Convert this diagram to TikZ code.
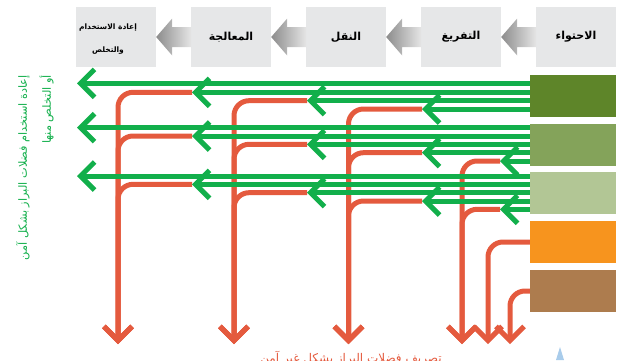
\documentclass[tikz,border=0pt]{standalone}
\usepackage{fontspec}
\newfontfamily\arabicfont[Script=Arabic]{DejaVu Sans}
\TeXXeTstate=1
\usetikzlibrary{arrows.meta}
\definecolor{G}{HTML}{12AF4B}
\definecolor{R}{HTML}{E45A3E}
\definecolor{boxgray}{HTML}{E6E7E8}
\definecolor{s1c}{HTML}{5E8529}
\definecolor{s2c}{HTML}{84A35A}
\definecolor{s3c}{HTML}{B2C695}
\definecolor{s4c}{HTML}{F7941E}
\definecolor{s5c}{HTML}{AD7C4E}
\definecolor{lblue}{HTML}{A9CCEB}
\tikzset{
  topbox/.style={fill=boxgray, minimum width=80pt, minimum height=60pt, inner sep=0pt,
    font=\arabicfont\bfseries\fontsize{11}{13}\selectfont, align=center},
  toplabel/.style={inner sep=0pt, align=center, font=\arabicfont\bfseries\fontsize{7.5}{23}\selectfont},
  srcbox/.style={minimum width=86pt, minimum height=42pt, inner sep=0pt},
  grn/.style={draw=G, line width=5pt, -{Straight Barb[length=14pt,width=28pt]}},
  redl/.style={draw=R, line width=5pt, rounded corners=15pt, -{Straight Barb[length=14pt,width=28pt]}},
  garrow/.style={left color=black!45, right color=black!10},
}
\begin{document}
\begin{tikzpicture}[x=1pt,y=-1pt]
\useasboundingbox (0,0) rectangle (621,360);
\clip (0,0) rectangle (621,360);

% top process boxes
\node[topbox] (b1) at (116,37) {};
\node[toplabel] (b1t) at (108,39) {\beginR إعادة الاستخدام\endR\\\beginR والتخلص\endR};
\node[topbox] (b2) at (231,37) {\beginR المعالجة\endR};
\node[topbox] (b3) at (346,37) {\beginR النقل\endR};
\node[topbox] (b4) at (461,37) {\beginR التفريغ\endR};
\node[topbox] (b5) at (576,37) {\beginR الاحتواء\endR};

\foreach \a/\b in {b1/b2,b2/b3,b3/b4,b4/b5}
  \shade[garrow] (\a.east) -- ++(16,-18.5) -- ++(0,8.5) -- ++(19,0) -- ++(0,20) -- ++(-19,0) -- ++(0,8.5) -- cycle;

% source boxes
\node[srcbox, fill=s1c] (s1) at (573,96) {};
\node[srcbox, fill=s2c] (s2) at (573,145) {};
\node[srcbox, fill=s3c] (s3) at (573,193) {};
\node[srcbox, fill=s4c] (s4) at (573,242) {};
\node[srcbox, fill=s5c] (s5) at (573,291) {};

% column coordinates
\coordinate (k1) at (77,0);
\coordinate (k2) at (192,0);
\coordinate (k3) at (307,0);
\coordinate (k4) at (422,0);
\coordinate (k5) at (500,0);
\coordinate (v1) at (118,0);
\coordinate (v2) at (234,0);
\coordinate (v3) at (348.5,0);
\coordinate (v4) at (462,0);
\coordinate (v5) at (488,0);
\coordinate (v6) at (510,0);
\coordinate (bot) at (0,344);

% red (unsafe) streams
\foreach \y in {92.3,136,184.3}
  \draw[redl] (k2 |- 0,\y) -- (v1 |- 0,\y) -- (v1 |- bot);
\foreach \y in {100.7,144.3,192.7}
  \draw[redl] (k3 |- 0,\y) -- (v2 |- 0,\y) -- (v2 |- bot);
\foreach \y in {109,152.7,201}
  \draw[redl] (k4 |- 0,\y) -- (v3 |- 0,\y) -- (v3 |- bot);
\foreach \y in {161,209.3}
  \draw[redl] (k5 |- 0,\y) -- (v4 |- 0,\y) -- (v4 |- bot);
\draw[redl] (s4.west) -- (v5 |- s4.west) -- (v5 |- bot);
\draw[redl] (s5.west) -- (v6 |- s5.west) -- (v6 |- bot);

% green (safe) streams
\foreach \y/\k in {83.3/k1,92.3/k2,100.7/k3,109/k4}
  \draw[grn] (s1.west |- 0,\y) -- (\k |- 0,\y);
\foreach \y/\k in {127.7/k1,136/k2,144.3/k3,152.7/k4,161/k5}
  \draw[grn] (s2.west |- 0,\y) -- (\k |- 0,\y);
\foreach \y/\k in {176/k1,184.3/k2,192.7/k3,201/k4,209.3/k5}
  \draw[grn] (s3.west |- 0,\y) -- (\k |- 0,\y);

% labels
\node[rotate=90, anchor=east, align=right, text=G, inner sep=0pt,
  font=\arabicfont\fontsize{11.3}{24}\selectfont] (safe) at (35,75)
  {\beginR إعادة استخدام فضلات البراز بشكل آمن\endR\\\beginR أو التخلص منها\endR};
\node[anchor=north, text=R, inner sep=0pt, font=\arabicfont\fontsize{12}{14}\selectfont] (unsafe) at (351,351)
  {\beginR تصريف فضلات البراز بشكل غير آمن\endR};

% small blue mark
\fill[lblue] (556,360) -- (560,347) -- (564,360) -- cycle;
\end{tikzpicture}
\end{document}
